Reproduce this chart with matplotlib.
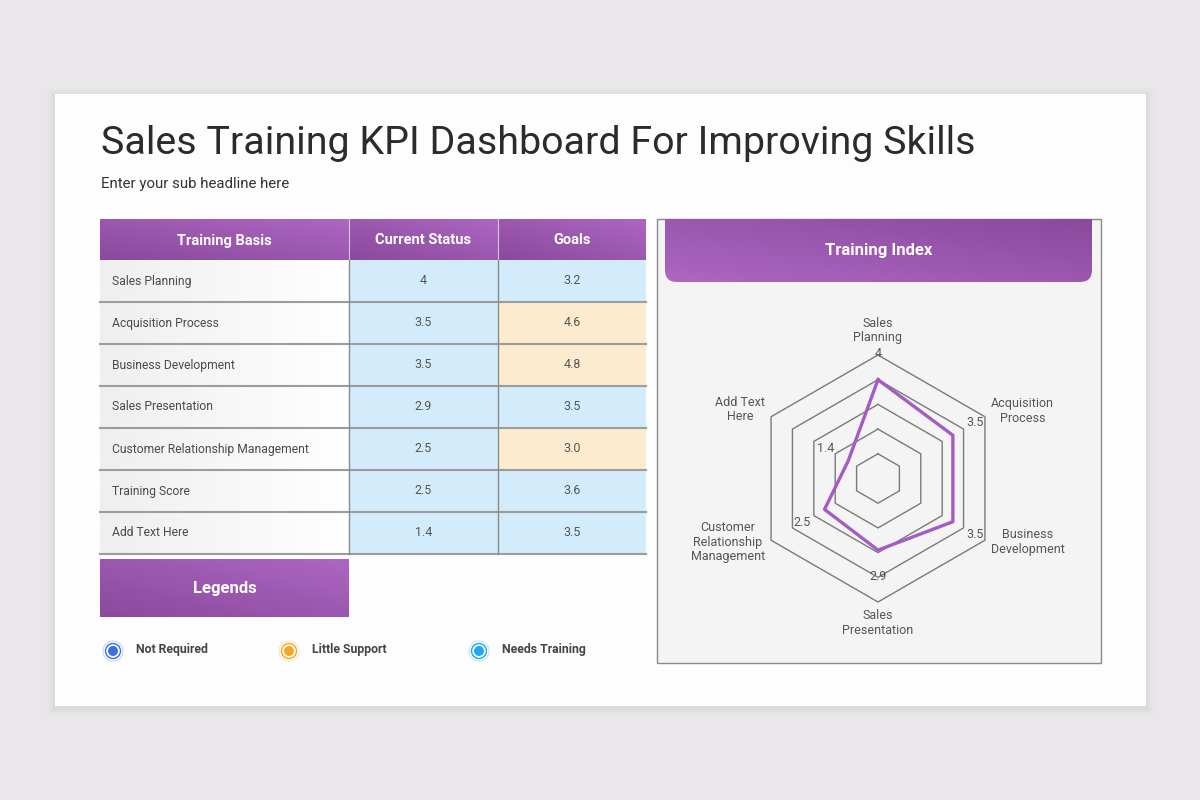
import matplotlib
matplotlib.use("Agg")
import matplotlib.pyplot as plt
import numpy as np
from matplotlib.patches import Rectangle, FancyBboxPatch, Circle
from matplotlib.colors import to_rgb

plt.rcParams['font.family'] = ['Roboto', 'DejaVu Sans']

# data
title = "Sales Training KPI Dashboard For Improving Skills"
subtitle = "Enter your sub headline here"
col_headers = ["Training Basis", "Current Status", "Goals"]
training_basis = ["Sales Planning", "Acquisition Process", "Business Development",
                  "Sales Presentation", "Customer Relationship Management",
                  "Training Score", "Add Text Here"]
current_status = [4, 3.5, 3.5, 2.9, 2.5, 2.5, 1.4]
goals = [3.2, 4.6, 4.8, 3.5, 3.0, 3.6, 3.5]
goal_flags = ["Needs Training", "Little Support", "Little Support", "Needs Training",
              "Little Support", "Needs Training", "Needs Training"]

legend_names = ["Not Required", "Little Support", "Needs Training"]
legend_colors = ["#3d6fe0", "#f5a623", "#1ea8f5"]
cell_colors = {"Not Required": "#dbe4fb", "Little Support": "#fdebd0", "Needs Training": "#d3ecfb"}

radar_labels = ["Sales\nPlanning", "Acquisition\nProcess", "Business\nDevelopment",
                "Sales\nPresentation", "Customer\nRelationship\nManagement", "Add Text\nHere"]
radar_values = [4, 3.5, 3.5, 2.9, 2.5, 1.4]

PURPLE_D = "#8a4a9c"
PURPLE_L = "#ad66c2"


def gradient(ax, x0, y0, x1, y1, c_a, c_b, clip=None, mode='diag'):
    # diag: c_a bottom-left -> c_b top-right ; horiz: c_a left -> c_b right
    t = np.linspace(0, 1, 64)
    xx, yy = np.meshgrid(t, t)
    if mode == 'diag':
        f = ((1 - xx) + yy) / 2
    else:
        f = 1 - xx
    a, b = np.array(to_rgb(c_a)), np.array(to_rgb(c_b))
    img = a[None, None, :] * f[..., None] + b[None, None, :] * (1 - f[..., None])
    im = ax.imshow(img, extent=(x0, x1, y1, y0), origin='upper', aspect='auto',
                   interpolation='bilinear', zorder=2)
    if clip is not None:
        im.set_clip_path(clip)
    return im


fig = plt.figure(figsize=(12, 8), dpi=100)
fig.patch.set_facecolor("#e9e7e9")
ax = fig.add_axes([0, 0, 1, 1])
ax.axis('off')

# card with soft shadow
for i, al in enumerate([0.05, 0.04, 0.03, 0.02]):
    d = 2 + i * 2
    ax.add_patch(Rectangle((55 - d, 94 - d + 2), 1091 + 2 * d, 612 + 2 * d,
                           facecolor="#9a9a9a", edgecolor='none', alpha=al, zorder=0))
ax.add_patch(Rectangle((55, 94), 1091, 612, facecolor="#fdfdfd", edgecolor='none', zorder=1))

ax.text(101, 143, title, fontsize=28.4, color="#2b2b2b", va='center', ha='left', zorder=5)
ax.text(101, 184, subtitle, fontsize=10.8, color="#333333", va='center', ha='left', zorder=5)

# table
col_x = [100, 349, 498, 646]
head_top, head_bot = 219, 260
row_h = 42
for j, name in enumerate(col_headers):
    gradient(ax, col_x[j], head_top, col_x[j + 1], head_bot, PURPLE_D, PURPLE_L)
    ax.text((col_x[j] + col_x[j + 1]) / 2, (head_top + head_bot) / 2 + 1, name,
            fontsize=10.5, fontweight='bold', color='white', ha='center', va='center', zorder=5)
for x in col_x[1:-1]:
    ax.plot([x, x], [head_top, head_bot], color="#d9c2e3", lw=0.8, zorder=4)

for i, name in enumerate(training_basis):
    y0 = head_bot + i * row_h
    y1 = y0 + row_h
    gradient(ax, col_x[0], y0, col_x[1], y1, "#efefef", "#ffffff", mode='horiz')
    ax.add_patch(Rectangle((col_x[1], y0), col_x[2] - col_x[1], row_h,
                           facecolor=cell_colors["Needs Training"], edgecolor='none', zorder=2))
    ax.add_patch(Rectangle((col_x[2], y0), col_x[3] - col_x[2], row_h,
                           facecolor=cell_colors[goal_flags[i]], edgecolor='none', zorder=2))
    ax.text(112, y0 + row_h / 2, name, fontsize=8.7, color="#4a4a4a", ha='left', va='center', zorder=5)
    ax.text((col_x[1] + col_x[2]) / 2, y0 + row_h / 2, f"{current_status[i]:g}",
            fontsize=9, color="#555555", ha='center', va='center', zorder=5)
    ax.text((col_x[2] + col_x[3]) / 2, y0 + row_h / 2, f"{goals[i]:.1f}",
            fontsize=9, color="#555555", ha='center', va='center', zorder=5)
    ax.plot([col_x[0], col_x[3]], [y1, y1], color="#9c9c9c", lw=1.5, zorder=4)
table_bot = head_bot + len(training_basis) * row_h
for x in col_x[1:-1]:
    ax.plot([x, x], [head_bot, table_bot], color="#8a8a8a", lw=1.0, zorder=4)

# legend box
gradient(ax, 100, 559, 349, 617, PURPLE_D, PURPLE_L)
ax.text(224.5, 588, "Legends", fontsize=12, fontweight='bold', color='white',
        ha='center', va='center', zorder=5)
leg_x = [113, 289, 479]
for x, name, c in zip(leg_x, legend_names, legend_colors):
    ax.add_patch(Circle((x, 651), 10, facecolor="white", edgecolor=c, lw=0.6, alpha=0.35, zorder=4))
    ax.add_patch(Circle((x, 651), 7.5, facecolor="white", edgecolor=c, lw=1.0, zorder=5))
    ax.add_patch(Circle((x, 651), 5, facecolor=c, edgecolor='none', zorder=6))
    ax.text(x + 23, 650, name, fontsize=8.8, fontweight='bold', color="#454545",
            ha='left', va='center', zorder=5)

# right panel
panel = Rectangle((657, 219), 444, 444, facecolor="#f4f4f4", edgecolor="#8a8a8a", lw=1.0, zorder=2)
ax.add_patch(panel)
hdr = FancyBboxPatch((665, 200), 427, 82, boxstyle="round,pad=0,rounding_size=12",
                     facecolor='none', edgecolor='none', zorder=3)
ax.add_patch(hdr)
hdr.set_clip_path(panel)
im = gradient(ax, 665, 219, 1092, 282, PURPLE_L, PURPLE_D, clip=hdr)
im.set_zorder(3)
ax.text(878.5, 250, "Training Index", fontsize=12, fontweight='bold', color='white',
        ha='center', va='center', zorder=5)

ax.set_xlim(0, 1200)
ax.set_ylim(800, 0)

# radar
cx, cy, R = 878, 478.5, 123.5
rax = fig.add_axes([(cx - R) / 1200, (800 - cy - R) / 800, 2 * R / 1200, 2 * R / 800],
                   projection='polar')
rax.patch.set_alpha(0)
rax.set_theta_zero_location('N')
rax.set_theta_direction(-1)
rax.grid(False)
rax.spines['polar'].set_visible(False)
rax.set_xticks([])
rax.set_yticks([])
rax.set_ylim(0, 5)

n = len(radar_values)
ang = np.deg2rad(np.arange(n) * 360 / n)
ang_c = np.append(ang, ang[0])
for k in range(1, 6):
    rax.plot(ang_c, [k] * (n + 1), color="#7a7a7a", lw=1.0, clip_on=False, zorder=2)
vals = np.append(radar_values, radar_values[0])
rax.plot(ang_c, vals, color="#a55cc2", lw=2.4, clip_on=False, zorder=3)

for a, v in zip(ang, radar_values):
    rax.text(a, v + 1.05, f"{v:g}", fontsize=9, color="#555555", ha='center', va='center')

# label placement (angle in degrees, radius in ring units)
label_ang = [0, 65, 113, 180, 247, 296.5]
label_r = [6.0, 6.45, 6.6, 5.85, 6.6, 6.25]
for a, lab, r in zip(label_ang, radar_labels, label_r):
    rax.text(np.deg2rad(a), r, lab, fontsize=9, color="#555555", ha='center', va='center',
             linespacing=1.15)

fig.savefig("out.png", dpi=100, facecolor=fig.get_facecolor())
